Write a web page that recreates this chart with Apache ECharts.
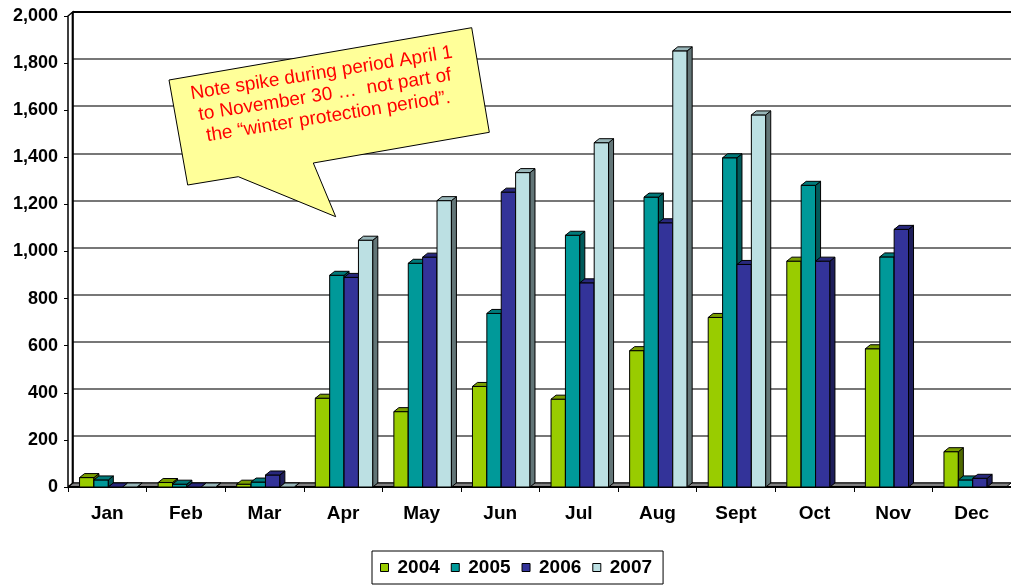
<!DOCTYPE html>
<html>
<head>
<meta charset="utf-8">
<title>Monthly totals 2004–2007</title>
<script src="https://cdn.jsdelivr.net/npm/echarts@6/dist/echarts.min.js"></script>
<style>
  html, body { margin: 0; padding: 0; background: #fff; }
  #chart { width: 1011px; height: 586px; }
</style>
</head>
<body>
<div id="chart"></div>
<script>
// Categories and yearly series
const months = ['Jan', 'Feb', 'Mar', 'Apr', 'May', 'Jun', 'Jul', 'Aug', 'Sept', 'Oct', 'Nov', 'Dec'];
const years = ['2004', '2005', '2006', '2007'];
const values2004 = [40, 19, 12, 377, 320, 427, 373, 579, 720, 959, 587, 150];
const values2005 = [30, 12, 21, 899, 950, 737, 1069, 1231, 1398, 1281, 977, 30];
const values2006 = [0, 0, 51, 890, 976, 1252, 867, 1122, 945, 959, 1094, 37];
const values2007 = [0, 0, 0, 1048, 1216, 1335, 1462, 1852, 1580, null, null, null];
const yMax = 2000;
const yStep = 200;

const seriesValues = [values2004, values2005, values2006, values2007];

// Face colours for the extruded bars: front, top, side
const frontColors = ['#99CC00', '#009999', '#333399', '#BCE0E3'];
const topColors   = ['#7A9E00', '#007A7A', '#28287C', '#98B6B9'];
const sideColors  = ['#4F6900', '#005B5B', '#1E1E5A', '#627577'];

// Depth of the pseudo-3D extrusion (px)
const DX = 4.7, DY = 4;
const BAR_DX = 5, BAR_DY = 4;

const FONT = '"Liberation Sans", Arial, sans-serif';

const chart = echarts.init(document.getElementById('chart'), null, { renderer: 'canvas' });

// Back wall + floor + side wall of the 3D box
function renderFrame(params, api) {
  const cs = params.coordSys;
  const bx = cs.x, by = cs.y, w = cs.width, h = cs.height;
  return {
    type: 'group',
    children: [
      { // floor
        type: 'polygon',
        shape: { points: [[bx, by + h], [bx + w, by + h], [bx + w - DX, by + h + DY], [bx - DX, by + h + DY]] },
        style: { fill: '#808080', stroke: '#000', lineWidth: 1 }
      },
      { // front edge of floor
        type: 'line',
        shape: { x1: bx - DX, y1: by + h + DY, x2: bx + w, y2: by + h + DY },
        style: { stroke: '#000', lineWidth: 2 }
      },
      { // left wall seen edge-on
        type: 'polygon',
        shape: { points: [[bx, by], [bx, by + h], [bx - DX, by + h + DY], [bx - DX, by + DY]] },
        style: { fill: '#fff', stroke: '#000', lineWidth: 1.5 }
      },
      { // top edge of back wall
        type: 'line',
        shape: { x1: bx, y1: by, x2: bx + w, y2: by },
        style: { stroke: '#000', lineWidth: 2 }
      },
      { // back wall left edge
        type: 'line',
        shape: { x1: bx, y1: by, x2: bx, y2: by + h },
        style: { stroke: '#000', lineWidth: 2 }
      }
    ]
  };
}

// Extruded bar: front rectangle, top cap and right side
function makeBarRenderer(idx) {
  return function (params, api) {
    const v = api.value(1);
    if (v === null || v === undefined || isNaN(v)) return;
    const cat = api.value(0);
    const base = api.coord([cat, 0]);
    const tip = api.coord([cat, v]);
    const catW = api.size([1, 0])[0];
    const bw = catW * 0.183;
    const x0 = base[0] - catW / 2 + catW * 0.147 + idx * bw;
    const yb = base[1];
    const yt = tip[1];
    const stroke = { stroke: '#000', lineWidth: 1 };
    return {
      type: 'group',
      children: [
        {
          type: 'rect',
          shape: { x: x0, y: yt, width: bw, height: Math.max(0, yb - yt) },
          style: Object.assign({ fill: frontColors[idx] }, stroke)
        },
        {
          type: 'polygon',
          shape: { points: [[x0 + bw, yt], [x0 + bw + BAR_DX, yt - BAR_DY], [x0 + bw + BAR_DX, yb - BAR_DY], [x0 + bw, yb]] },
          style: Object.assign({ fill: sideColors[idx] }, stroke)
        },
        {
          type: 'polygon',
          shape: { points: [[x0, yt], [x0 + BAR_DX, yt - BAR_DY], [x0 + bw + BAR_DX, yt - BAR_DY], [x0 + bw, yt]] },
          style: Object.assign({ fill: topColors[idx] }, stroke)
        }
      ]
    };
  };
}

const barSeries = years.map((name, i) => ({
  name: name,
  type: 'custom',
  xAxisIndex: 1,
  yAxisIndex: 1,
  z: 3,
  itemStyle: { color: frontColors[i] },
  renderItem: makeBarRenderer(i),
  encode: { x: 0, y: 1 },
  data: seriesValues[i].map((v, c) => [c, v])
}));

const option = {
  animation: false,
  backgroundColor: '#fff',
  grid: [
    { left: 72.7, top: 12, width: 944, height: 471 },   // back wall
    { left: 68, top: 16, width: 944, height: 471 }      // front plane
  ],
  xAxis: [
    { gridIndex: 0, type: 'category', data: months, show: false },
    {
      gridIndex: 1, type: 'category', data: months,
      axisLine: { show: false },
      axisTick: { show: true, length: 5, lineStyle: { color: '#000', width: 1 } },
      axisLabel: { color: '#000', fontFamily: FONT, fontWeight: 'bold', fontSize: 19, margin: 17 },
      splitLine: { show: false }
    }
  ],
  yAxis: [
    {
      gridIndex: 0, type: 'value', min: 0, max: yMax, interval: yStep,
      axisLine: { show: false }, axisTick: { show: false }, axisLabel: { show: false },
      splitLine: { show: true, lineStyle: { color: '#4a4a4a', width: 1.5 } }
    },
    {
      gridIndex: 1, type: 'value', min: 0, max: yMax, interval: yStep,
      axisLine: { show: false },
      axisTick: { show: true, length: 4, lineStyle: { color: '#000', width: 1 } },
      axisLabel: {
        color: '#000', fontFamily: FONT, fontWeight: 'bold', fontSize: 18, margin: 10,
        formatter: v => v.toLocaleString('en-US')
      },
      splitLine: { show: false }
    }
  ],
  legend: {
    data: years,
    left: 372, top: 551,
    padding: [7, 11, 7, 8],
    itemWidth: 8, itemHeight: 8, itemGap: 11,
    icon: 'rect',
    itemStyle: { borderColor: '#000', borderWidth: 1 },
    borderColor: '#000', borderWidth: 1,
    textStyle: { color: '#000', fontFamily: FONT, fontWeight: 'bold', fontSize: 19, padding: [0, 0, 0, 4] },
    selectedMode: false
  },
  series: [
    {
      name: 'frame', type: 'custom', xAxisIndex: 0, yAxisIndex: 0, z: 1,
      silent: true, renderItem: renderFrame, data: [[0, 0]]
    }
  ].concat(barSeries),
  graphic: [
    {
      type: 'polygon', z: 100,
      shape: { points: [[169, 80], [471.7, 27.7], [489.3, 132.3], [313.3, 163], [335.7, 216.7], [238.3, 176.7], [187.7, 185]] },
      style: { fill: '#FFFF99', stroke: '#000', lineWidth: 1 }
    },
    {
      type: 'text', z: 101,
      x: 325, y: 95, rotation: 0.157,
      style: {
        text: 'Note spike during period April 1\nto November 30 \u2026  not part of\nthe \u201cwinter protection period\u201d.',
        fill: '#FF0000', fontFamily: FONT, fontSize: 19, lineHeight: 22,
        align: 'center', verticalAlign: 'middle'
      }
    }
  ]
};

chart.setOption(option);
</script>
</body>
</html>
